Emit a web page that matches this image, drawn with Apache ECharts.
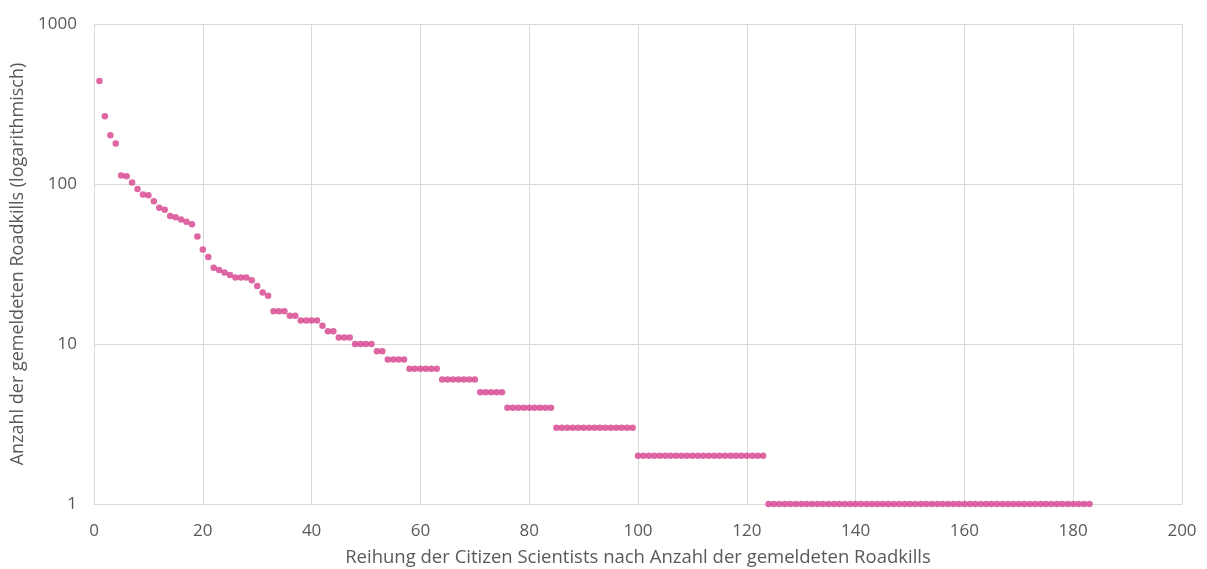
<!DOCTYPE html>
<html>
<head>
<meta charset="utf-8">
<script src="https://cdn.jsdelivr.net/npm/echarts@6/dist/echarts.min.js"></script>
<style>
html,body{margin:0;padding:0;background:#fff;}
#chart{width:1207px;height:569px;}
</style>
</head>
<body>
<div id="chart"></div>
<script>
// Number of roadkills reported per citizen scientist, ordered by rank (rank = position + 1)
var roadkills = [
  440,265,202,179,113,112,102,93,86,85,
  78,71,69,63,62,60,58,56,47,39,
  35,30,29,28,27,26,26,26,25,23,
  21,20,16,16,16,15,15,14,14,14,
  14,13,12,12,11,11,11,10,10,10,
  10,9,9,8,8,8,8,7,7,7,
  7,7,7,6,6,6,6,6,6,6,
  5,5,5,5,5,4,4,4,4,4,
  4,4,4,4,3,3,3,3,3,3,
  3,3,3,3,3,3,3,3,3,2,
  2,2,2,2,2,2,2,2,2,2,
  2,2,2,2,2,2,2,2,2,2,
  2,2,2,1,1,1,1,1,1,1,
  1,1,1,1,1,1,1,1,1,1,
  1,1,1,1,1,1,1,1,1,1,
  1,1,1,1,1,1,1,1,1,1,
  1,1,1,1,1,1,1,1,1,1,
  1,1,1,1,1,1,1,1,1,1,
  1,1,1
];
var xTitle = 'Reihung der Citizen Scientists nach Anzahl der gemeldeten Roadkills';
var yTitle = 'Anzahl der gemeldeten Roadkills (logarithmisch)';

var points = roadkills.map(function (v, i) { return [i + 1, v]; });

var font = '"Open Sans", "Noto Sans", sans-serif';
var textColor = '#595959';
var gridColor = '#d9d9d9';

var chart = echarts.init(document.getElementById('chart'), null, {renderer: 'canvas'});
chart.setOption({
  animation: false,
  backgroundColor: '#ffffff',
  grid: {left: 94, right: 25, top: 24, bottom: 65, containLabel: false, outerBoundsMode: 'none'},
  xAxis: {
    type: 'value',
    min: 0, max: 200, interval: 20,
    name: xTitle,
    nameLocation: 'middle',
    nameGap: 44,
    nameTextStyle: {color: textColor, fontFamily: font, fontSize: 18.5},
    axisLine: {show: true, lineStyle: {color: gridColor, width: 1}},
    axisTick: {show: false},
    axisLabel: {color: textColor, fontFamily: font, fontSize: 17, margin: 19},
    splitLine: {show: true, lineStyle: {color: gridColor, width: 1}}
  },
  yAxis: {
    type: 'log',
    logBase: 10,
    min: 1, max: 1000,
    name: yTitle,
    nameLocation: 'middle',
    nameGap: 64,
    nameRotate: 90,
    nameTextStyle: {color: textColor, fontFamily: font, fontSize: 18},
    axisLine: {show: true, lineStyle: {color: gridColor, width: 1}},
    axisTick: {show: false},
    axisLabel: {
      color: textColor, fontFamily: font, fontSize: 17, margin: 17,
      formatter: function (v) { return String(v); }
    },
    splitLine: {show: true, lineStyle: {color: gridColor, width: 1}}
  },
  series: [{
    type: 'scatter',
    data: points,
    symbol: 'circle',
    symbolSize: 6.5,
    itemStyle: {color: '#d6418c'}
  }]
});
</script>
</body>
</html>
